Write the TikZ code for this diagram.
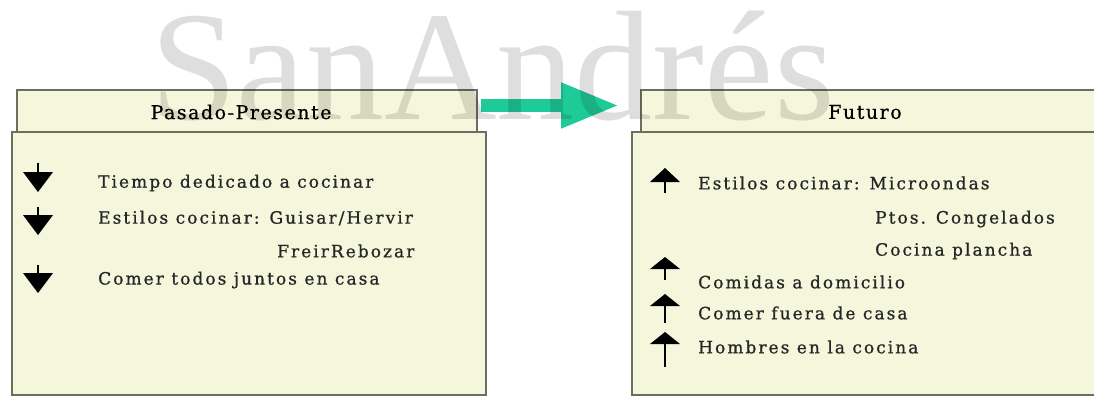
\documentclass[tikz,border=0pt]{standalone}
\usepackage{fontspec}
\setmainfont{Liberation Serif}
\newfontfamily\lsfont[LetterSpace=12,FakeBold=0.8]{DejaVu Serif}
\newfontfamily\hdfont[LetterSpace=8,FakeBold=0.6]{DejaVu Serif}
\newfontfamily\wmfont{Liberation Serif}
\usetikzlibrary{arrows.meta}
\definecolor{boxfill}{RGB}{245,247,220}
\definecolor{boxline}{RGB}{110,110,95}
\definecolor{arrgreen}{RGB}{30,202,152}
\tikzset{
  panel/.style={draw=boxline, fill=boxfill, line width=1.6pt, inner sep=0pt, rectangle},
  headtxt/.style={inner sep=0pt, font=\hdfont\fontsize{19}{22}\selectfont},
  item/.style={anchor=west, inner sep=0pt, text=black!85, font=\lsfont\fontsize{17}{20}\selectfont},
  bigarrow/.style={draw=arrgreen, line width=13pt, -{Triangle[length=58pt,width=42pt]}},
  watermark/.style={inner sep=0pt, anchor=base west, text=black, text opacity=0.13,
    font=\wmfont\fontsize{156}{160}\selectfont},
}
\newcommand\dnarr[4]{% x, top, headtop, apex
  \draw[line width=2pt] (#1,#2) -- (#1,#3+2);
  \fill (#1-15,#3) -- (#1+15,#3) -- (#1,#4) -- cycle;}
\newcommand\uparr[4]{% x, apex, base, bottom
  \draw[line width=2pt] (#1,#3-2) -- (#1,#4);
  \fill (#1-15,#3) -- (#1+15,#3) -- (#1,#2) -- cycle;}
\begin{document}
\begin{tikzpicture}[x=1pt,y=-1pt]
\useasboundingbox (0,0) rectangle (1094,396);
\fill[white] (0,0) rectangle (1094,396);
% left panel
\node[panel, minimum width=474pt, minimum height=263pt] (bl) at (249,263.5) {};
\node[panel, minimum width=460pt, minimum height=42pt] (hl) at (247,111) {};
\node[headtxt] (hlt) at (241,112) {Pasado-Presente};
% right panel
\node[panel, minimum width=470pt, minimum height=263pt] (br) at (867,263.5) {};
\node[panel, minimum width=460pt, minimum height=42pt] (hr) at (871,111) {};
\node[headtxt] (hrt) at (865,112) {Futuro};
% connector
\draw[bigarrow] ([xshift=3pt,yshift=5.5pt]hl.east) -- ([xshift=-21pt,yshift=5.5pt]hr.west);
% left items
\node[item] (l1) at (98,183) {Tiempo dedicado a cocinar};
\node[item] (l2) at (98,218) {Estilos cocinar: Guisar/Hervir};
\node[item] (l3) at (277,251) {FreirRebozar};
\node[item] (l4) at (98,280) {Comer todos juntos en casa};
\dnarr{38}{163}{172}{192}
\dnarr{38}{207}{215}{235}
\dnarr{38}{265}{273}{293}
% right items
\node[item] (r1) at (698,183) {Estilos cocinar: Microondas};
\node[item] (r2) at (875,219) {Ptos. Congelados};
\node[item] (r3) at (875,251) {Cocina plancha};
\node[item] (r4) at (698,282) {Comidas a domicilio};
\node[item] (r5) at (698,313) {Comer fuera de casa};
\node[item] (r6) at (698,347) {Hombres en la cocina};
\uparr{665}{168}{182}{193}
\uparr{665}{257}{269}{280}
\uparr{665}{294}{306}{323}
\uparr{665}{332}{344}{367}
% watermark
\node[watermark] (wm) at (150,119) {SanAndrés};
\end{tikzpicture}
\end{document}
